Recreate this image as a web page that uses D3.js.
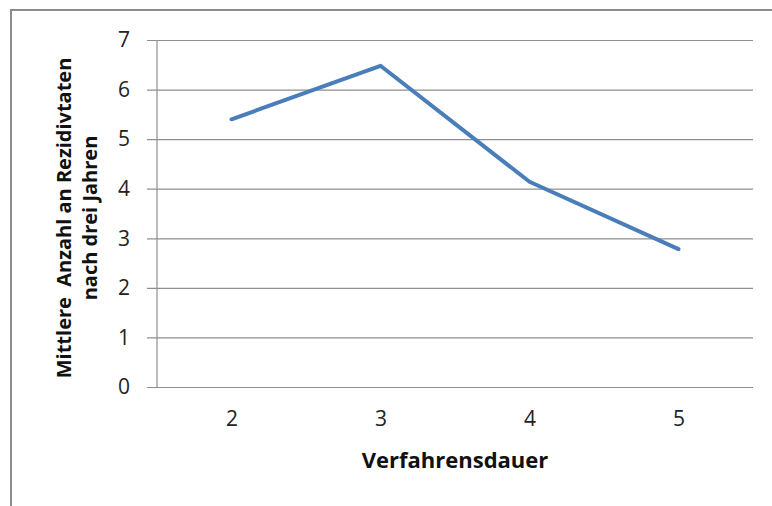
<!DOCTYPE html>
<html>
<head>
<meta charset="utf-8">
<script src="https://cdn.jsdelivr.net/npm/d3@7"></script>
<style>
  body { margin: 0; background: #fff; }
  svg { display: block; font-family: "Open Sans", "DejaVu Sans", sans-serif; }
</style>
</head>
<body>
<div id="chart"></div>
<script>
const durations = ["2", "3", "4", "5"];
const meanOffences = [5.4, 6.48, 4.14, 2.78];
const yTicks = [0, 1, 2, 3, 4, 5, 6, 7];
const xTitle = "Verfahrensdauer";
const yTitleLines = ["Mittlere  Anzahl an Rezidivtaten", "nach drei Jahren"];

const W = 772, H = 506;
const margin = { top: 40, right: 19, bottom: 119, left: 157 };
const innerW = W - margin.left - margin.right;
const innerH = H - margin.top - margin.bottom;

const svg = d3.select("#chart").append("svg")
  .attr("width", W).attr("height", H);

// outer chart frame (cut by the window on the right and bottom)
svg.append("rect")
  .attr("x", 11).attr("y", 10)
  .attr("width", W + 20).attr("height", H + 20)
  .attr("fill", "none").attr("stroke", "#8c8c8c").attr("stroke-width", 2);

const g = svg.append("g").attr("transform", `translate(${margin.left},${margin.top})`);

const x = d3.scalePoint().domain(durations).range([0, innerW]).padding(0.5);
const y = d3.scaleLinear().domain([0, 7]).range([innerH, 0]);

// gridlines + left ticks
g.append("g")
  .call(d3.axisLeft(y).tickValues(yTicks).tickSize(-innerW).tickFormat(""))
  .call(a => a.select(".domain").remove())
  .call(a => a.selectAll("line").attr("stroke", "#8f8f8f").attr("stroke-width", 1.2).attr("x1", -10));

const yAxis = g.append("g")
  .call(d3.axisLeft(y).tickValues(yTicks).tickSize(0).tickPadding(27).tickFormat(d3.format("d")))
  .call(a => a.select(".domain").remove());
yAxis.selectAll("text")
  .attr("font-size", 21).attr("fill", "#222").attr("font-family", "Open Sans");

g.append("line")
  .attr("x1", 0).attr("x2", 0).attr("y1", 0).attr("y2", innerH)
  .attr("stroke", "#8f8f8f").attr("stroke-width", 1.2);

const xAxis = g.append("g").attr("transform", `translate(0,${innerH})`)
  .call(d3.axisBottom(x).tickSize(0).tickPadding(24))
  .call(a => a.select(".domain").remove());
xAxis.selectAll("text")
  .attr("font-size", 21).attr("fill", "#222").attr("font-family", "Open Sans");

const line = d3.line()
  .x((d, i) => x(durations[i]))
  .y(d => y(d));

g.append("path")
  .datum(meanOffences)
  .attr("d", line)
  .attr("fill", "none")
  .attr("stroke", "#4a7ebb")
  .attr("stroke-width", 4)
  .attr("stroke-linejoin", "round")
  .attr("stroke-linecap", "round");

svg.append("text")
  .attr("x", margin.left + innerW / 2).attr("y", 468)
  .attr("text-anchor", "middle")
  .attr("font-size", 22).attr("font-weight", "bold").attr("fill", "#111")
  .text(xTitle);

const yt = svg.append("text")
  .attr("transform", `translate(0,${218}) rotate(-90)`)
  .attr("text-anchor", "middle")
  .style("white-space", "pre")
  .attr("font-size", 20).attr("font-weight", "bold").attr("fill", "#111");
yTitleLines.forEach((t, i) => {
  yt.append("tspan").attr("x", 0).attr("y", 71 + i * 26).text(t);
});
</script>
</body>
</html>
